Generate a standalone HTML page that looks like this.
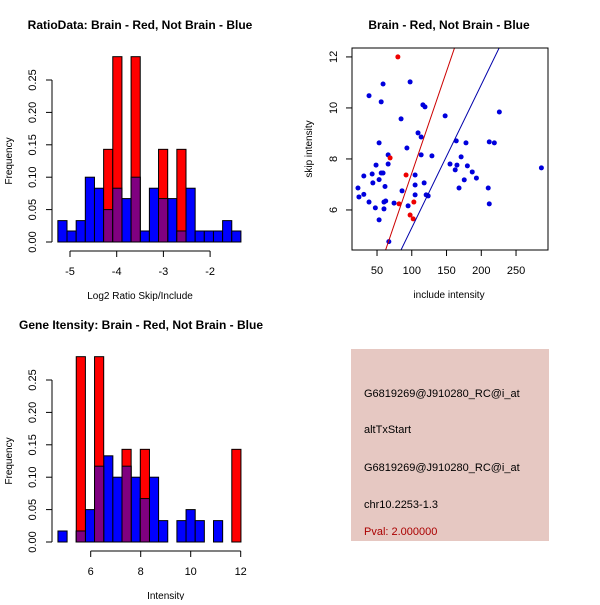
<!DOCTYPE html>
<html><head><meta charset="utf-8"><style>
body{margin:0;background:#fff}
svg{font-family:"Liberation Sans",sans-serif}
</style></head><body>
<svg id="c" width="600" height="600" xmlns="http://www.w3.org/2000/svg">
<rect width="600" height="600" fill="#fff"/>
<text x="140" y="29" font-size="12" font-weight="bold" text-anchor="middle">RatioData: Brain - Red, Not Brain - Blue</text>
<text x="449" y="29" font-size="12" font-weight="bold" text-anchor="middle">Brain - Red, Not Brain - Blue</text>
<text x="141" y="329" font-size="12" font-weight="bold" text-anchor="middle">Gene Itensity: Brain - Red, Not Brain - Blue</text>
<rect x="351" y="349" width="198" height="192" fill="#E6C8C2"/>
<g font-size="11" fill="#000">
<text x="364" y="397">G6819269@J910280_RC@i_at</text>
<text x="364" y="433">altTxStart</text>
<text x="364" y="471">G6819269@J910280_RC@i_at</text>
<text x="364" y="508">chr10.2253-1.3</text>
<text x="364" y="535" fill="#aa0000">Pval: 2.000000</text>
</g>
</svg>
<script>
const ratioBlue=[0.033,0.017,0.033,0.1,0.083,0.05,0.083,0.067,0.1,0.017,0.083,0.067,0.067,0.017,0.083,0.017,0.017,0.017,0.033,0.017];
const ratioRed=[0,0,0,0,0,0.143,0.286,0,0.286,0,0,0.143,0,0.143,0,0,0,0,0,0];
const ratioXTicks=[-5,-4,-3,-2];
const intBlue=[0.017,0,0.017,0.05,0.117,0.133,0.1,0.117,0.1,0.067,0.1,0.033,0,0.033,0.05,0.033,0,0.033,0,0];
const intRed=[0,0,0.286,0,0.286,0,0,0.143,0,0.143,0,0,0,0,0,0,0,0,0,0.143];
const intXTicks=[6,8,10,12];
const freqTicks=["0.00","0.05","0.10","0.15","0.20","0.25"];
const blueX=[22.6,24,31,31,38.5,38.5,43,44,47.6,48.6,53,53,53,56,56,58.7,58.7,60,60,61.5,62.5,66,66,67,74.5,84.6,86,93,94.7,97.6,104.8,104.8,104.8,109,113.5,113.5,116,119,117.8,120.7,123.6,129,148,155,162.5,164,165,168,171,175.5,178,180,187,193,210,211.5,211.5,218.8,226,286.5];
const blueY=[6.86,6.51,6.61,7.33,10.48,6.31,7.41,7.06,6.08,7.76,8.63,7.19,5.61,10.24,7.45,10.94,7.45,6.04,6.31,6.92,6.35,7.8,8.16,4.76,6.27,9.57,6.75,8.43,6.16,11.02,7.37,6.98,6.59,9.02,8.86,8.16,10.12,10.04,7.06,6.59,6.55,8.12,9.69,7.8,7.57,8.71,7.76,6.86,8.08,7.18,8.63,7.73,7.49,7.25,6.86,8.67,6.24,8.63,9.84,7.65];
const redX=[80,68.8,91.8,81.7,103,97.6,102];
const redY=[12,8.04,7.37,6.24,6.31,5.8,5.65];
const fitRed=[-0.55,0.0799];
const fitBlue=[-0.31,0.0561];
const scXTicks=[50,100,150,200,250];
const scYTicks=[6,8,10,12];

const svg=document.getElementById('c');
const NS='http://www.w3.org/2000/svg';
function mk(tag,attrs,parent){const e=document.createElementNS(NS,tag);for(const k in attrs)e.setAttribute(k,attrs[k]);(parent||svg).appendChild(e);return e;}
function txt(x,y,s,attrs){const e=mk('text',Object.assign({x:x,y:y,'font-size':11,'text-anchor':'middle'},attrs||{}));e.textContent=s;return e;}

function hist(prefix,blue,red,x0,bw,xs,x0px,y0px,ticks,xlabel){
  const X=v=>x0px+(v-x0)*xs, Y=v=>y0px-v*648;
  const g=mk('g',{});
  
  
  for(let i=0;i<blue.length;i++){
    const a=X(x0+i*bw),b=X(x0+(i+1)*bw);
    if(blue[i]>0){const r=mk('rect',{x:a,y:Y(blue[i]),width:b-a,height:Y(0)-Y(blue[i]),fill:'#0000ff',stroke:'#000','stroke-width':1},g);
      
      }
  }
  for(let i=0;i<red.length;i++){
    const a=X(x0+i*bw),b=X(x0+(i+1)*bw);
    if(red[i]>0){const r=mk('rect',{x:a,y:Y(red[i]),width:b-a,height:Y(0)-Y(red[i]),fill:'#ff0000',stroke:'#000','stroke-width':1},g);
      
      
      const m=Math.min(red[i],blue[i]);
      if(m>0){const p=mk('rect',{x:a,y:Y(m),width:b-a,height:Y(0)-Y(m),fill:'#800080',stroke:'#000','stroke-width':1},g);
        
        }
    }
  }
  mk('line',{x1:52,x2:52,y1:Y(0),y2:Y(0.25),stroke:'#000'},g);
  freqTicks.forEach((t,i)=>{const v=i*0.05;mk('line',{x1:46,x2:52,y1:Y(v),y2:Y(v),stroke:'#000'},g);
    const e=txt(36,Y(v),t,{transform:`rotate(-90 36 ${Y(v)})`});g.appendChild(e);});
  const yl=txt(12,Y(0.125),'Frequency',{transform:`rotate(-90 12 ${Y(0.125)})`,'font-size':10});g.appendChild(yl);
  const ay=y0px+9;
  mk('line',{x1:X(ticks[0]),x2:X(ticks[ticks.length-1]),y1:ay,y2:ay,stroke:'#000'},g);
  ticks.forEach(t=>{mk('line',{x1:X(t),x2:X(t),y1:ay,y2:ay+6,stroke:'#000'},g);g.appendChild(txt(X(t),ay+24,String(t)));});
  g.appendChild(txt(X((ticks[0]+ticks[ticks.length-1])/2),y0px+57,xlabel,{'font-size':10}));
}
hist('ratio',ratioBlue,ratioRed,-5.26,0.196,46.7,70+(-5.26+5)*46.7,242,ratioXTicks,'Log2 Ratio Skip/Include');
hist('intensity',intBlue,intRed,4.69,0.366,25,90.7+(4.69-6)*25,542,intXTicks,'Intensity');

(function(){
  const L=352,R=548,T=48,B=250,xmin=14,xmax=296,ymin=4.43,ymax=12.35;
  const X=v=>L+(v-xmin)/(xmax-xmin)*(R-L), Y=v=>B-(v-ymin)/(ymax-ymin)*(B-T);
  const g=mk('g',{});
  
  
  mk('defs',{},g).innerHTML='<clipPath id="clp"><rect x="352" y="48" width="196" height="202"/></clipPath>';
  blueX.forEach((v,i)=>{const c=mk('circle',{cx:X(v),cy:Y(blueY[i]),r:2.5,fill:'#0000dd'},g);
    
    });
  redX.forEach((v,i)=>{const c=mk('circle',{cx:X(v),cy:Y(redY[i]),r:2.5,fill:'#ee0000'},g);
    
    });
  [[fitRed,'#cc0000','red-fit-line'],[fitBlue,'#0000aa','blue-fit-line']].forEach(([f,col,n])=>{
    const l=mk('line',{x1:X(xmin),y1:Y(f[0]+f[1]*xmin),x2:X(xmax),y2:Y(f[0]+f[1]*xmax),stroke:col,'clip-path':'url(#clp)'},g);
    
    });
  mk('rect',{x:L,y:T,width:R-L,height:B-T,fill:'none',stroke:'#000'},g);
  scXTicks.forEach(t=>{mk('line',{x1:X(t),x2:X(t),y1:B,y2:B+6,stroke:'#000'},g);g.appendChild(txt(X(t),B+24,String(t)));});
  scYTicks.forEach(t=>{mk('line',{x1:L-6,x2:L,y1:Y(t),y2:Y(t),stroke:'#000'},g);g.appendChild(txt(L-15,Y(t),String(t),{transform:`rotate(-90 ${L-15} ${Y(t)})`}));});
  g.appendChild(txt(449,298,'include intensity',{'font-size':10}));
  g.appendChild(txt(312,149,'skip intensity',{'font-size':10,transform:'rotate(-90 312 149)'}));
})();
</script>
</body></html>
